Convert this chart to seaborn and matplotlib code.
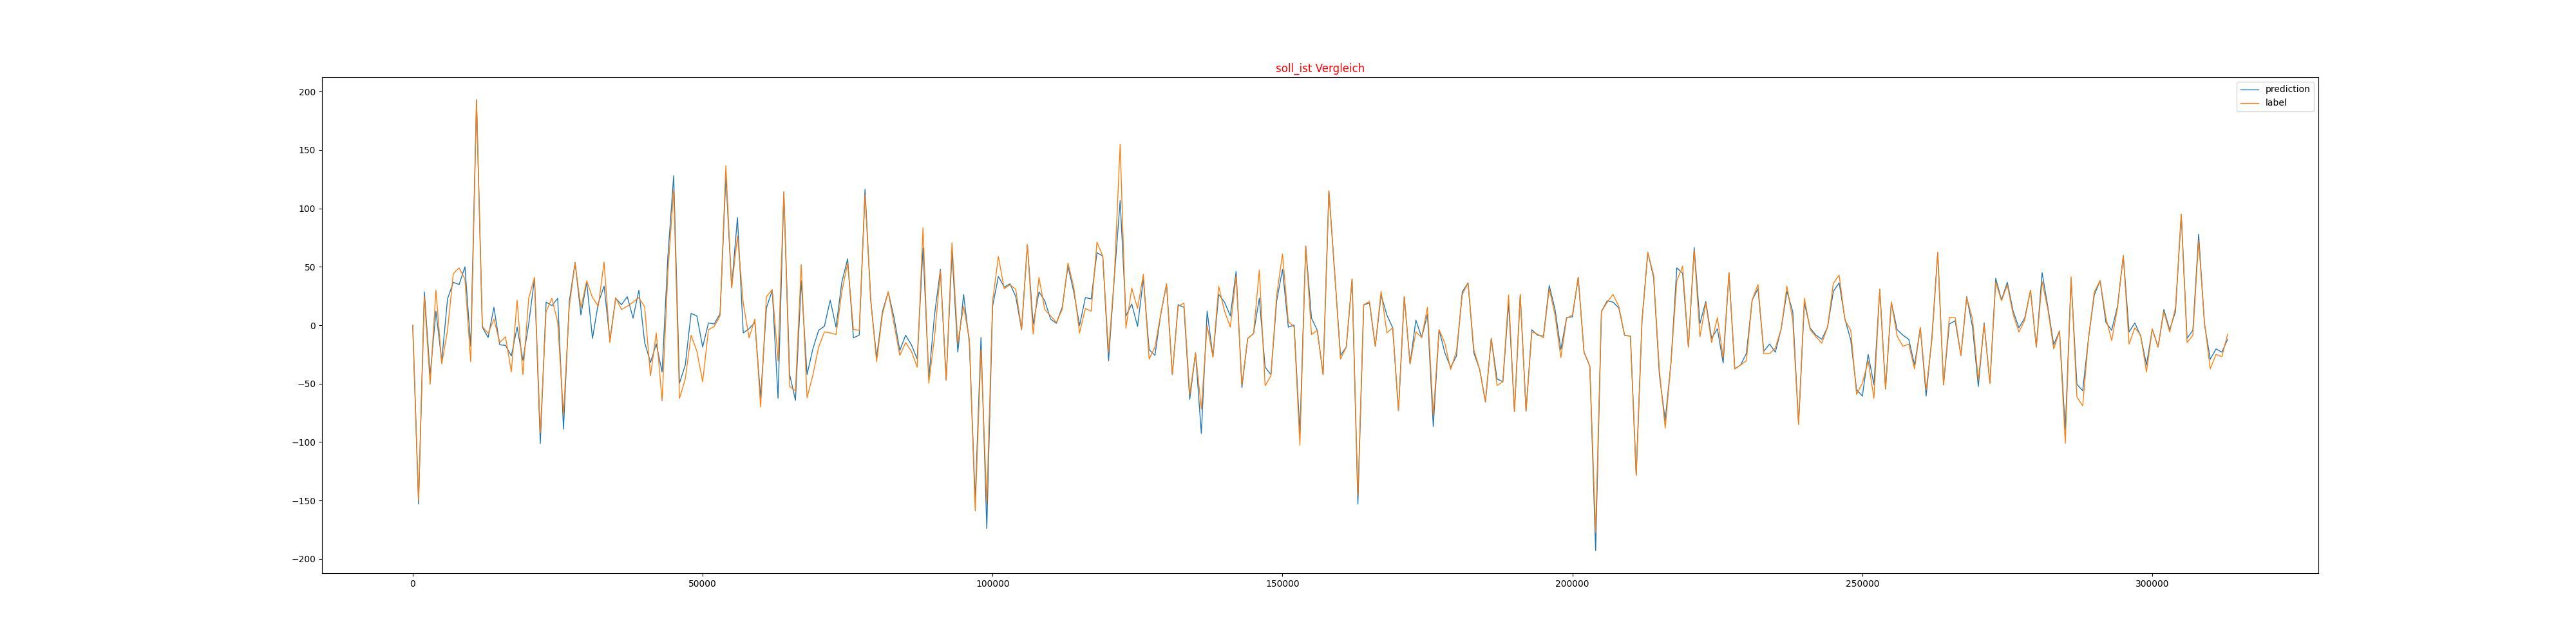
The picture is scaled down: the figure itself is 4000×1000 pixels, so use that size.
import numpy as np
import matplotlib
matplotlib.use("Agg")
import matplotlib.pyplot as plt
import seaborn as sns

# sample spacing on the x axis (every 1000th step)
step = 1000

prediction = [
    0, -153, 28.6, -42.8, 12, -30.4, 22.6, 36.8, 34.9, 50,
    -18, 193, -1.6, -10.4, 15.4, -16.7, -17.2, -26.3, -1.6, -29.9,
    1.1, 40.1, -101.2, 19.8, 16.8, 23.1, -88.9, 20.4, 53.8, 8.8,
    36.8, -11.2, 19, 33.5, -12.6, 23.1, 17.6, 24.5, 6.1, 30,
    -14.8, -31.8, -15.9, -40, 58.8, 128, -49.6, -34, 10.2, 8,
    -18.6, 2, 1.1, 9.9, 127.4, 32.7, 92.3, -6.5, -3, 2.5,
    -62, 14.9, 30, -62.5, 114.2, -42.2, -64.2, 38.2, -42.2, -20.3,
    -4.3, -0.8, 21.5, -1.6, 36.8, 56.9, -10.7, -8.5, 116.4, 20.4,
    -27.7, 11.6, 28.6, 6.6, -21.6, -8.5, -16.7, -29, 66.2, -45,
    9.4, 47.8, -46.9, 62.9, -23, 26.4, -15.3, -150, -10.4, -174,
    16.2, 41.8, 32.7, 35.5, 24.5, -3.8, 68.9, 1.1, 28.6, 21,
    5.3, 1.7, 15.4, 50.6, 28.6, -0.2, 23.7, 22.6, 62.1, 59.3,
    -30.4, 41, 106.8, 8, 18.2, -1, 39.6, -20.8, -25.8, 9.4,
    35.5, -42.2, 17.6, 15.4, -63.4, -23.6, -92.7, 12.1, -27.1, 26.4,
    19.8, 8, 46, -53.2, -11.2, -7.1, 23.1, -35.9, -42.2, 21,
    47.8, -1.6, 0.3, -92.2, 67.8, 6.1, -4.3, -42.2, 115.1, 45,
    -25.8, -18.6, 39.6, -153, 17.6, 19, -18, 25.9, 8.8, -2.1,
    -73, 24.5, -33, 4.4, -10.4, 9.4, -86.7, -3.8, -23.6, -35.9,
    -26.3, 28.6, 36.3, -23.6, -37.8, -65.6, -11.2, -46, -48.3, 19,
    -73.8, 26.4, -73.5, -3.8, -8.5, -9.3, 34.1, 13.5, -20.8, 6.6,
    7.2, 41, -23, -35.1, -192.9, 11.6, 21, 19.8, 14.9, -8.7,
    -9.3, -128.4, 3.9, 62.4, 41, -42.8, -81.2, -31.8, 49.2, 44.5,
    -18.6, 66.5, 1.7, 20.4, -11.2, -3, -32.3, 45, -37.3, -34,
    -24.1, 21.7, 31.3, -22.2, -16.1, -23, -3, 29.1, 11.6, -84.8,
    19, -2.4, -8.5, -12, -1.6, 29.1, 36.3, 5.3, -12.6, -55.1,
    -60.6, -24.9, -51, 30.8, -54.6, 19.8, -3.8, -8.5, -12, -34,
    -2.1, -60.6, -9.8, 62.4, -51, 1.1, 3.9, -25.8, 24.5, -1.6,
    -52.4, 2, -49.6, 40.1, 21.7, 36.8, 12.1, -2.1, 6.1, 30,
    -18.6, 45, 15.4, -16.7, -4.9, -89.4, 39.6, -50.5, -56, -11.2,
    25.9, 38.2, 2.5, -4.3, 16.2, 59.6, -5.7, 2, -9.3, -34,
    -3.2, -18.6, 13.5, -3.8, 11.6, 95, -11.2, -4.3, 78, 1.1,
    -29, -20.3, -23, -12,
]

label = [
    0, -150, 24.5, -50.5, 30, -33, -4.3, 44.2, 49.2, 39.6,
    -31.2, 193, -1, -7, 5.3, -14.8, -9.8, -40, 21.5, -42.2,
    23.1, 41, -92.2, 11.6, 23.1, 2.5, -75.7, 16.2, 53.3, 14.9,
    38, 23.7, 16.2, 54.1, -14.8, 23.7, 13.5, 16.2, 19.8, 23.7,
    15.7, -43.3, -6.5, -64.7, 45, 116.4, -62.5, -46, -8.5, -22.2,
    -48.3, -3.8, -1, 8, 136.5, 31.9, 76.6, 19, -10.7, 5.3,
    -70, 24.5, 30.5, -30.4, 114.2, -52.4, -56, 52, -62, -42.8,
    -18.6, -5.7, -6.5, -7.9, 28.6, 53.3, -3.5, -4.3, 111.5, 21,
    -31.2, 9.4, 28.6, 1.1, -25.8, -14.8, -22.2, -35.9, 83.5, -49.6,
    -9.8, 46.4, -46.9, 70.6, -15, 16.2, -12, -158.9, -20.8, -152.6,
    20.4, 58.8, 31.3, 34.6, 30.8, -3.8, 68.9, -7.6, 41, 13.5,
    8, 2.5, 13.5, 53.3, 32.7, -6.5, 14.3, 12.1, 71.1, 59.3,
    -23, 42.3, 154.9, -2.4, 31.9, 14.3, 43.7, -29, -18.6, 9.4,
    35.5, -42.2, 16.2, 19, -59.2, -23.6, -71.6, -0.2, -27.1, 33.3,
    12.1, -1.6, 42, -51, -11.2, -7.1, 47.3, -51.8, -43.3, 25.9,
    61, 3.3, -1.6, -102.6, 67.8, -7.9, -4.3, -42.2, 115.1, 45,
    -29, -18.6, 39.6, -145.7, 17.6, 20.4, -18, 29.1, -6.5, -2.1,
    -73, 24.5, -33, -5.7, -10.4, 15.4, -77, -3.8, -15.3, -37.8,
    -22.2, 26.4, 36.3, -20.8, -37.8, -65.6, -11.2, -51.6, -48.3, 25.9,
    -73.8, 26.4, -73.5, -5.7, -7.6, -10.7, 31.3, 8.8, -27.7, 6.1,
    8.8, 41, -23, -35.1, -177.3, 11.6, 19.8, 26.4, 16.2, -8.7,
    -9.3, -128.4, 3.9, 62.4, 42.9, -38.7, -88.1, -31.8, 38.2, 50.6,
    -18.6, 64.3, -9.8, 19, -14.8, 6.6, -27.7, 45, -37.3, -34,
    -30.4, 21.7, 34.9, -24.4, -24.4, -19.4, -3, 33.5, 3.9, -84.8,
    23.1, -3.8, -9.8, -15.3, -1.6, 36, 42.9, 4.4, -4.3, -59.2,
    -49.6, -30.4, -62.5, 30.8, -54.6, 19.8, -9.3, -18, -16.1, -37.3,
    -2.1, -55.1, -12.6, 62.4, -51, 6.6, 6.6, -25.8, 23.7, 5.3,
    -46.9, 0.6, -49.6, 36.8, 21, 34.6, 9.4, -5.7, 4.4, 30,
    -18.6, 37.4, 13.5, -20.3, -4.9, -101, 41.5, -61.4, -68.9, -11.2,
    28.6, 38.2, 6.6, -13.1, 14.9, 59.6, -16.1, -2.1, -8.5, -40,
    -3.2, -18.6, 11.6, -5.7, 14.9, 95, -14.8, -8.5, 72.5, 2.5,
    -37.3, -24.9, -26.9, -7.6,
]

x_steps = np.arange(len(prediction)) * step

fig, ax = plt.subplots(figsize=(40, 10))

# prediction vs. label over the test steps
sns.lineplot(x=x_steps, y=prediction, ax=ax, label='prediction', linewidth=1)
sns.lineplot(x=x_steps, y=label, ax=ax, label='label', linewidth=1)

ax.set_title('soll_ist Vergleich', color='red')
ax.legend(loc='upper right')

fig.savefig('out.png', dpi=100)
plt.close(fig)
